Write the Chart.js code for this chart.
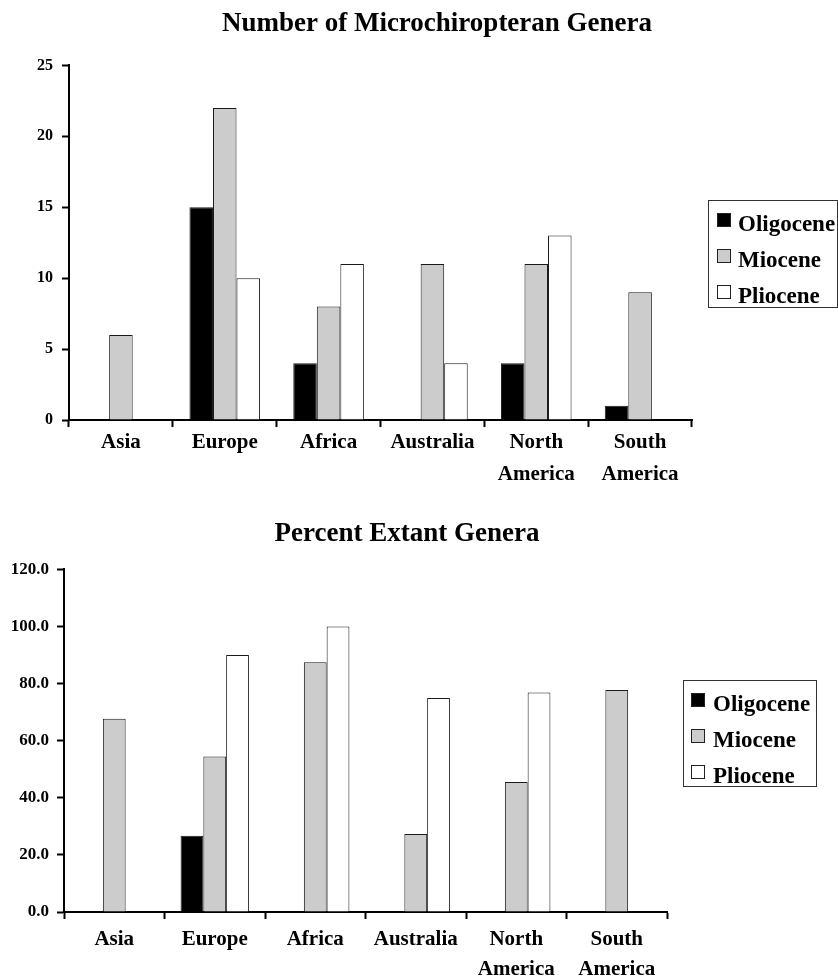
<!DOCTYPE html>
<html><head><meta charset="utf-8">
<script src="https://cdn.jsdelivr.net/npm/chart.js@4.4.1/dist/chart.umd.min.js"></script>
<style>html,body{margin:0;padding:0;background:#fff;overflow:hidden}canvas{display:block}</style>
</head><body>
<canvas id="c1" width="838" height="490"></canvas>
<canvas id="c2" width="838" height="488"></canvas>
<script>
const categories = ['Asia','Europe','Africa','Australia',['North','America'],['South','America']];
const seriesNames = ['Oligocene','Miocene','Pliocene'];
const seriesColors = ['#000000','#cccccc','#ffffff'];
// Number of Microchiropteran Genera
const generaOligocene = [null,15,4,null,4,1];
const generaMiocene   = [6,22,8,11,11,9];
const generaPliocene  = [null,10,11,4,13,null];
// Percent Extant Genera
const extantOligocene = [null,26.7,null,null,null,null];
const extantMiocene   = [67.7,54.5,87.5,27.3,45.5,77.8];
const extantPliocene  = [null,90.0,100.0,75.0,76.9,null];
// Tick settings
const countTicks   = {min:0,max:25,step:5};
const percentTicks = {min:0,max:120,step:20};

const SERIF = '"Liberation Serif","Times New Roman",serif';

const boxLegend = {
  id:'boxLegend',
  afterDraw(chart, args, o){
    const ctx = chart.ctx; ctx.save();
    ctx.strokeStyle = '#333'; ctx.lineWidth = 1;
    ctx.strokeRect(o.x + 0.5, o.y + 0.5, o.w, o.h);
    chart.data.datasets.forEach((ds, i) => {
      const y = o.y + o.first + i * o.step;
      ctx.fillStyle = ds.backgroundColor; ctx.fillRect(o.sx, y, 14, 14);
      ctx.strokeStyle = '#222'; ctx.lineWidth = 1; ctx.strokeRect(o.sx + 0.5, y + 0.5, 13, 13);
      ctx.fillStyle = '#000'; ctx.font = 'bold 23px ' + SERIF; ctx.textBaseline = 'alphabetic'; ctx.textAlign = 'left';
      ctx.fillText(ds.label, o.tx, y + 17.5);
    });
    ctx.restore();
  }
};

function makeChart(id, vals, t, cfg){
  return new Chart(document.getElementById(id), {
    type:'bar',
    data:{
      labels: categories,
      datasets: seriesNames.map((n, i) => ({
        label:n, data:vals[i], backgroundColor:seriesColors[i],
        borderColor:'#1a1a1a', borderWidth:1, categoryPercentage:0.68, barPercentage:1
      }))
    },
    options:{
      responsive:false, animation:false,
      layout:{padding:{left:cfg.padL, right:cfg.padR, top:0, bottom:0}},
      plugins:{
        legend:{display:false}, tooltip:{enabled:false},
        title:{display:true, text:cfg.title, color:'#000',
          font:{family:SERIF, size:27, weight:'bold', lineHeight:1.2},
          padding:{top:cfg.tTop, bottom:cfg.tBot}},
        boxLegend: cfg.legend
      },
      scales:{
        x:{
          grid:{display:true, drawOnChartArea:false, drawTicks:true, tickLength:7, tickWidth:2, tickColor:'#000', offset:true},
          border:{display:true, color:'#000', width:2},
          ticks:{color:'#000', font:{family:SERIF, size:21, weight:'bold', lineHeight:cfg.xLH}, padding:cfg.xPad, maxRotation:0, autoSkip:false},
          afterFit(s){ s.height = cfg.xH; }
        },
        y:{
          min:t.min, max:t.max,
          ticks:{stepSize:t.step, color:'#000', font:{family:SERIF, size:cfg.yFont, weight:'bold'}, padding:cfg.yPad, callback:cfg.fmt},
          grid:{drawOnChartArea:false, drawTicks:true, tickLength:7, tickWidth:2, tickColor:'#000'},
          border:{display:true, color:'#000', width:2},
          afterFit(s){ s.width = cfg.yW; }
        },
        r:{
          type:'linear', position:'right', min:0, max:1,
          grid:{display:false}, border:{display:false}, ticks:{display:false},
          afterFit(s){ s.width = cfg.rW; }
        }
      }
    },
    plugins:[boxLegend]
  });
}

makeChart('c1', [generaOligocene, generaMiocene, generaPliocene], countTicks, {
  title:'Number of Microchiropteran Genera', padL:36, padR:0, tTop:8, tBot:25,
  xLH:1.5, xPad:0, xH:70, yFont:16, yPad:9, yW:33, rW:146,
  fmt:(v)=>String(v),
  legend:{x:708, y:200, w:129, h:107, sx:717, tx:738, first:13, step:36}
});

makeChart('c2', [extantOligocene, extantMiocene, extantPliocene], percentTicks, {
  title:'Percent Extant Genera', padL:0, padR:24, tTop:28, tBot:19,
  xLH:1.43, xPad:6, xH:66, yFont:17, yPad:8, yW:64, rW:147,
  fmt:(v)=>Number(v).toFixed(1),
  legend:{x:683, y:190, w:133, h:106, sx:691, tx:713, first:13, step:36}
});
</script>
</body></html>
